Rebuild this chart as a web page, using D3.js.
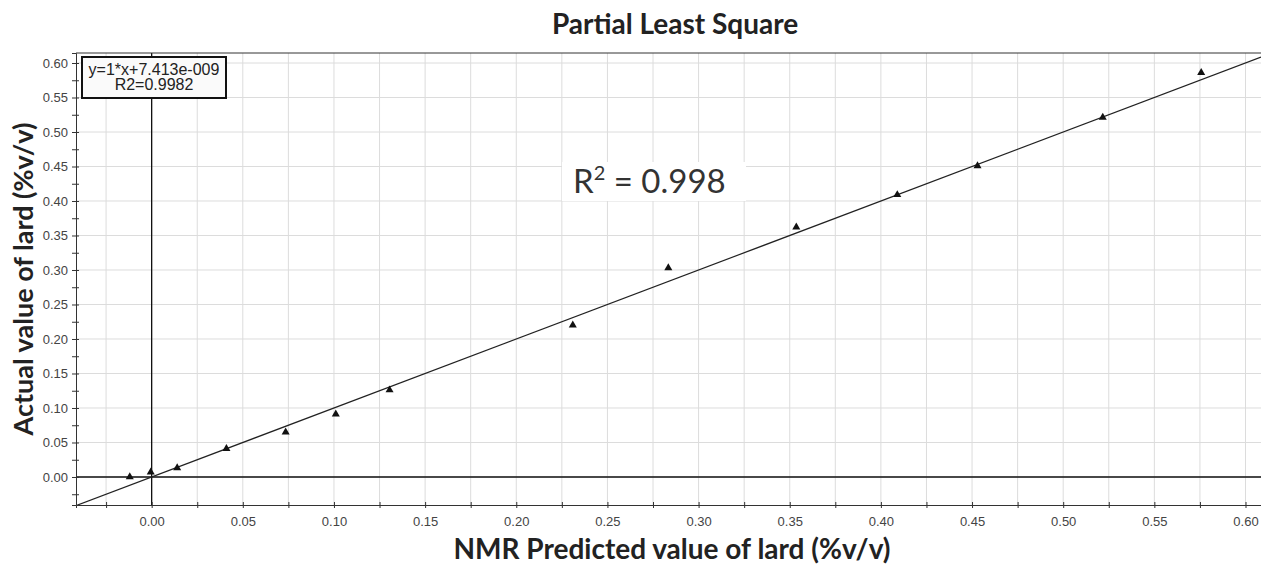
<!DOCTYPE html>
<html>
<head>
<meta charset="utf-8">
<script src="https://cdn.jsdelivr.net/npm/d3@7"></script>
<style>
  body { margin: 0; background: #fff; }
  svg { display: block; }
</style>
</head>
<body>
<div id="chart"></div>
<script>
// data
var predicted = [-0.012, -0.0005, 0.014, 0.041, 0.0735, 0.101, 0.1305, 0.231, 0.2834, 0.3536, 0.409, 0.453, 0.5217, 0.5757]
var actual = [0.000, 0.007, 0.013, 0.041, 0.065, 0.091, 0.126, 0.220, 0.303, 0.362, 0.409, 0.451, 0.521, 0.586]
var fitSlope = 1
var fitIntercept = 7.413e-9
var fitLines = ['y=1*x+7.413e-009', 'R2=0.9982']
var xTicks = d3.range(-0.025, 0.6001, 0.025)
var yTicks = d3.range(-0.025, 0.6001, 0.025)
var yGrid = d3.range(0, 0.6001, 0.05)

var width = 1261
var height = 566
var margin = { top: 53, right: 0, bottom: 61, left: 76 }

const svg = d3.select('#chart')
    .append('svg')
    .attr('width', width)
    .attr('height', height)

var x = d3.scaleLinear()
    .domain([-0.0415, 0.6085])
    .range([margin.left, width - margin.right])

var y = d3.scaleLinear()
    .domain([-0.0406, 0.6145])
    .range([height - margin.bottom, margin.top])

var isMajor = d => Math.abs(Math.round(d * 20) - d * 20) < 1e-6
var fmt = d => isMajor(d) ? d3.format('.2f')(d) : ''

// grid
svg.append('g')
    .selectAll('line')
    .data(xTicks)
    .join('line')
    .attr('x1', d => x(d)).attr('x2', d => x(d))
    .attr('y1', y.range()[1]).attr('y2', y.range()[0])
    .attr('stroke', '#dcdcdc')

svg.append('g')
    .selectAll('line')
    .data(yGrid)
    .join('line')
    .attr('x1', x.range()[0]).attr('x2', x.range()[1])
    .attr('y1', d => y(d)).attr('y2', d => y(d))
    .attr('stroke', '#dcdcdc')

// zero lines
svg.append('line')
    .attr('x1', x(0)).attr('x2', x(0))
    .attr('y1', y.range()[1]).attr('y2', y.range()[0])
    .attr('stroke', '#111')
    .attr('stroke-width', 1.3)
svg.append('line')
    .attr('x1', x.range()[0]).attr('x2', x.range()[1])
    .attr('y1', y(0)).attr('y2', y(0))
    .attr('stroke', '#111')
    .attr('stroke-width', 1.3)

// top border
svg.append('line')
    .attr('x1', x.range()[0]).attr('x2', x.range()[1])
    .attr('y1', margin.top).attr('y2', margin.top)
    .attr('stroke', '#333')

// fit line, clipped to plot
svg.append('clipPath').attr('id', 'plotclip')
    .append('rect')
    .attr('x', x.range()[0]).attr('y', y.range()[1])
    .attr('width', x.range()[1] - x.range()[0])
    .attr('height', y.range()[0] - y.range()[1])

svg.append('path')
    .attr('clip-path', 'url(#plotclip)')
    .attr('d', d3.line()([
        [x(x.domain()[0]), y(fitSlope * x.domain()[0] + fitIntercept)],
        [x(x.domain()[1]), y(fitSlope * x.domain()[1] + fitIntercept)]
    ]))
    .attr('stroke', '#222')
    .attr('stroke-width', 1.2)
    .attr('fill', 'none')

// points
svg.append('g')
    .selectAll('path')
    .data(predicted)
    .join('path')
    .attr('d', d3.symbol().type(d3.symbolTriangle).size(28))
    .attr('transform', (d, i) => `translate(${x(d)},${y(actual[i])})`)
    .attr('fill', '#111')

// axes
var xAxis = svg.append('g')
    .attr('transform', `translate(0,${y.range()[0]})`)
    .call(d3.axisBottom(x).tickValues(xTicks).tickFormat(fmt).tickSizeOuter(0).tickSize(3).tickPadding(9))
xAxis.select('.domain').attr('stroke', '#333')
xAxis.selectAll('.tick line').attr('y1', -3).attr('stroke', '#333')
xAxis.selectAll('.tick text')
    .attr('font-family', 'Liberation Sans, Arial, sans-serif')
    .attr('font-size', 13)
    .attr('fill', '#444')

var yAxis = svg.append('g')
    .attr('transform', `translate(${x.range()[0]},0)`)
    .call(d3.axisLeft(y).tickValues(yTicks).tickFormat(fmt).tickSizeOuter(0).tickSize(4).tickPadding(4))
yAxis.select('.domain').attr('stroke', '#333')
yAxis.selectAll('.tick line').attr('x1', 3).attr('stroke', '#333')
yAxis.selectAll('.tick text')
    .attr('font-family', 'Liberation Sans, Arial, sans-serif')
    .attr('font-size', 13)
    .attr('fill', '#444')

// equation box
var box = svg.append('g').attr('transform', `translate(${x.range()[0] + 6},${margin.top + 4})`)
box.append('rect')
    .attr('width', 144).attr('height', 41)
    .attr('fill', '#fafafa')
    .attr('stroke', '#111')
    .attr('stroke-width', 2)
box.selectAll('text')
    .data(fitLines)
    .join('text')
    .attr('x', 72)
    .attr('y', (d, i) => 18 + i * 15)
    .attr('text-anchor', 'middle')
    .attr('font-family', 'Liberation Sans, Arial, sans-serif')
    .attr('font-size', 16)
    .attr('fill', '#222')
    .text(d => d)

// R2 annotation
var r2 = svg.append('g')
r2.append('rect')
    .attr('x', 562).attr('y', 162)
    .attr('width', 184).attr('height', 39)
    .attr('fill', '#fff')
var r2text = r2.append('text')
    .attr('x', 573).attr('y', 193)
    .attr('font-family', 'Lato, sans-serif')
    .attr('font-size', 33)
    .attr('fill', '#333')
r2text.append('tspan').text('R')
r2text.append('tspan').attr('dy', -13).attr('font-size', 20).text('2')
r2text.append('tspan').attr('dy', 13).text(' = 0.998')

// titles
svg.append('text')
    .attr('x', 675).attr('y', 34)
    .attr('text-anchor', 'middle')
    .attr('font-family', 'Lato, sans-serif')
    .attr('font-weight', 'bold')
    .attr('font-size', 28)
    .attr('fill', '#222')
    .text('Partial Least Square')

svg.append('text')
    .attr('x', 672).attr('y', 559)
    .attr('text-anchor', 'middle')
    .attr('font-family', 'Lato, sans-serif')
    .attr('font-weight', 'bold')
    .attr('font-size', 28)
    .attr('fill', '#222')
    .text('NMR Predicted value of lard (%v/v)')

svg.append('text')
    .attr('transform', `translate(33,${(y.range()[0] + y.range()[1]) / 2}) rotate(-90)`)
    .attr('text-anchor', 'middle')
    .attr('font-family', 'Lato, sans-serif')
    .attr('font-weight', 'bold')
    .attr('font-size', 27)
    .attr('fill', '#222')
    .text('Actual value of lard (%v/v)')
</script>
</body>
</html>
